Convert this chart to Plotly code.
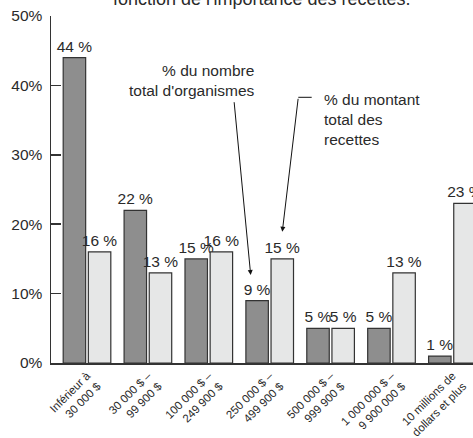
import plotly.graph_objects as go

categories = [
    "Inférieur à<br>30 000 $",
    "30 000 $ –<br>99 900 $",
    "100 000 $ –<br>249 900 $",
    "250 000 $ –<br>499 900 $",
    "500 000 $ –<br>999 900 $",
    "1 000 000 $ –<br>9 900 000 $",
    "10 millions de<br>dollars et plus",
]
pct_organismes = [44, 22, 15, 9, 5, 5, 1]
pct_recettes = [16, 13, 16, 15, 5, 13, 23]
y_ticks = [0, 10, 20, 30, 40, 50]
y_ticklabels = ["0%", "10%", "20%", "30%", "40%", "50%"]

FONT = "Liberation Sans, Arial, sans-serif"
TXT = "#2a2a2a"
LINE = "#333333"

xpos = list(range(len(categories)))
bw = 0.369
gap = 0.022

fig = go.Figure()
fig.add_trace(go.Bar(
    x=xpos, y=pct_organismes, width=bw, offset=-(bw + gap),
    marker=dict(color="#8e8e8e", line=dict(color=LINE, width=1.2)),
    text=[f"{v} %" for v in pct_organismes], textposition="outside",
    constraintext="none", cliponaxis=True,
    textfont=dict(family=FONT, size=15.5, color=TXT),
    showlegend=False, hoverinfo="skip",
))
fig.add_trace(go.Bar(
    x=xpos, y=pct_recettes, width=bw, offset=gap,
    marker=dict(color="#e6e7e7", line=dict(color=LINE, width=1.2)),
    text=[f"{v} %" for v in pct_recettes], textposition="outside",
    constraintext="none", cliponaxis=True,
    textfont=dict(family=FONT, size=15.5, color=TXT),
    showlegend=False, hoverinfo="skip",
))

PX_X0, PX_PER = 87.0, 60.9
PX_Y0, PY_PER = 363.0, 6.94

def dx(px):
    return (px - PX_X0) / PX_PER

def dy(py):
    return (PX_Y0 - py) / PY_PER

# arrows
fig.add_annotation(x=dx(250.7), y=dy(275), xref="x", yref="y",
                   ax=-16.7, ay=-174.3, text="", showarrow=True,
                   arrowhead=2, arrowsize=1, arrowwidth=1, arrowcolor="#111")
fig.add_annotation(x=dx(282.3), y=dy(231.7), xref="x", yref="y",
                   ax=16, ay=-134.4, text="", showarrow=True,
                   arrowhead=2, arrowsize=1, arrowwidth=1, arrowcolor="#111")
fig.add_shape(type="line", x0=dx(298.3), x1=dx(311.7), y0=dy(97.3), y1=dy(97.3),
              xref="x", yref="y", line=dict(color="#111", width=1))

fig.add_annotation(x=dx(257), y=dy(80), xref="x", yref="y", xanchor="right",
                   yanchor="middle", align="right", showarrow=False,
                   text="% du nombre<br>total d'organismes",
                   font=dict(family=FONT, size=15.5, color=TXT))
fig.add_annotation(x=dx(321.5), y=dy(119), xref="x", yref="y", xanchor="left",
                   yanchor="middle", align="left", showarrow=False,
                   text="% du montant<br>total des<br>recettes",
                   font=dict(family=FONT, size=15.5, color=TXT))

# cropped title line (only its lower part is visible at the top edge)
fig.add_annotation(x=(262 - 51) / 422, y=1 + (15.7 - 11) / 347,
                   xref="paper", yref="paper", xanchor="center", yanchor="bottom",
                   showarrow=False,
                   text="fonction de l'importance des recettes.",
                   font=dict(family=FONT, size=18, color=TXT))

fig.update_layout(
    width=473, height=438,
    margin=dict(l=51, r=0, t=16, b=75, autoexpand=False),
    paper_bgcolor="white", plot_bgcolor="white",
    bargap=0, barmode="overlay",
    font=dict(family=FONT, color=TXT),
    xaxis=dict(
        range=[dx(51), dx(473)], automargin=False,
        tickmode="array", tickvals=xpos, ticktext=categories,
        tickangle=-45, tickfont=dict(family=FONT, size=11.5, color=TXT),
        showline=True, linecolor=LINE, linewidth=1.5,
        ticks="", showgrid=False, zeroline=False,
    ),
    yaxis=dict(
        range=[0, 50], automargin=False,
        tickmode="array", tickvals=y_ticks, ticktext=y_ticklabels,
        tickfont=dict(family=FONT, size=15.5, color=TXT),
        showline=True, linecolor=LINE, linewidth=1.5,
        ticks="inside", ticklen=10, tickwidth=1.5, tickcolor=LINE,
        showgrid=False, zeroline=False, ticklabelstandoff=4,
    ),
)

fig.write_html("out.html", config={"displayModeBar": False, "staticPlot": True},
               post_script="document.body.style.margin='0';document.body.style.overflow='hidden';")
